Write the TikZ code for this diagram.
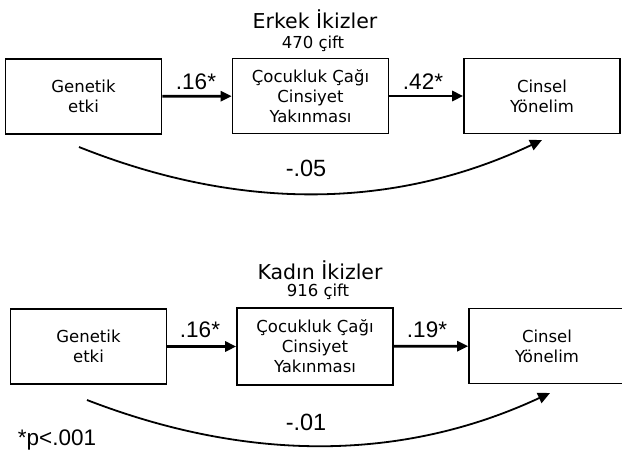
\documentclass[tikz,border=0pt]{standalone}
\usepackage{fontspec}
\setmainfont{DejaVu Sans}
\newfontfamily\numfont{Liberation Sans}
\usepackage{tikz}
\usetikzlibrary{arrows.meta}

\begin{document}
\begin{tikzpicture}[x=1pt, y=-1pt,
    box/.style={draw, rectangle, line width=1.6pt, align=center, inner sep=0pt,
        minimum width=156pt, minimum height=75pt,
        font=\fontsize{16.5}{20}\selectfont},
    title/.style={font=\fontsize{20.5}{24}\selectfont},
    pairs/.style={font=\fontsize{16.5}{19}\selectfont},
    coef/.style={font=\numfont\fontsize{22.5}{26}\selectfont},
    path/.style={line width=2.7pt, -{Triangle[length=11pt, width=10pt]}},
    direct/.style={line width=1.8pt, -{Triangle[length=12pt, width=11pt]}}]
    \useasboundingbox (0,0) rectangle (622,451);
    \clip (0,0) rectangle (622,451);

    \node[title] (titlem) at (315,19) {Erkek İkizler};
    \node[pairs] (pairsm) at (313,44) {470 çift};

    \node[box] (genm) at (83.5,96.5) {Genetik\\etki};
    \node[box] (cocm) at (310.5,96) {Çocukluk Çağı\\Cinsiyet\\Yakınması};
    \node[box] (yonm) at (542,96) {Cinsel\\Yönelim};

    \draw[path] (genm) -- (cocm);
    \draw[path] (cocm) -- (yonm);
    \node[coef] (am) at (196,82) {.16*};
    \node[coef] (bm) at (423,82) {.42*};

    \coordinate (startm) at (79,147);
    \coordinate (endm) at (542,140);
    \draw[direct] (startm) .. controls (242,212) and (396,209) .. (endm);
    \node[coef, font=\numfont\fontsize{23.5}{27}\selectfont] (cm) at (306,168) {-.05};

    \node[title] (titlef) at (320,270) {Kadın İkizler};
    \node[pairs] (pairsf) at (318,292) {916 çift};

    \node[box] (genf) at (88.5,346.5) {Genetik\\etki};
    \node[box, minimum height=77pt] (cocf) at (315,346.5) {Çocukluk Çağı\\Cinsiyet\\Yakınması};
    \node[box] (yonf) at (547,346) {Cinsel\\Yönelim};

    \draw[path] (genf) -- (cocf);
    \draw[path] (cocf) -- (yonf);
    \node[coef] (af) at (200,330) {.16*};
    \node[coef] (bf) at (427,330) {.19*};

    \coordinate (startf) at (87,400);
    \coordinate (endf) at (550,393);
    \draw[direct] (startf) .. controls (250,463) and (404,461) .. (endf);
    \node[coef, font=\numfont\fontsize{23.5}{27}\selectfont] (cf) at (306,422) {-.01};

    \node[coef] (note) at (57,440) {*p<.001};
\end{tikzpicture}
\end{document}
